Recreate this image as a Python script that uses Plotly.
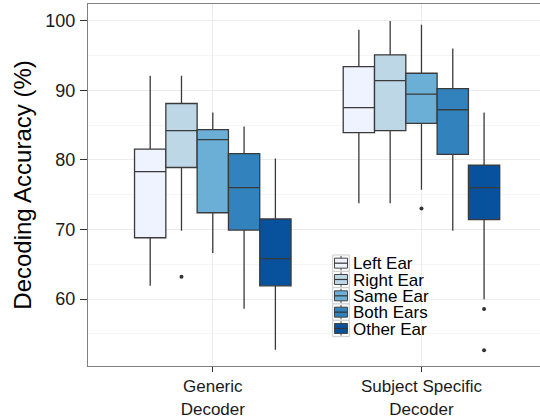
import plotly.graph_objects as go

# ---------------- data ----------------
categories = ["Generic<br>Decoder", "Subject Specific<br>Decoder"]
series = ["Left Ear", "Right Ear", "Same Ear", "Both Ears", "Other Ear"]
colors = ["#EFF3FF", "#BDD7E7", "#6BAED6", "#3182BD", "#08519C"]

# each list: [Generic Decoder, Subject Specific Decoder]
lower_whisker = {
    "Left Ear": [61.9, 73.75],
    "Right Ear": [69.8, 73.75],
    "Same Ear": [66.6, 75.7],
    "Both Ears": [58.6, 69.8],
    "Other Ear": [52.7, 59.95],
}
q1 = {
    "Left Ear": [68.8, 83.9],
    "Right Ear": [78.9, 84.2],
    "Same Ear": [72.4, 85.25],
    "Both Ears": [69.9, 80.8],
    "Other Ear": [61.9, 71.4],
}
median = {
    "Left Ear": [78.3, 87.5],
    "Right Ear": [84.2, 91.4],
    "Same Ear": [82.9, 89.45],
    "Both Ears": [76.0, 87.2],
    "Other Ear": [65.8, 76.0],
}
q3 = {
    "Left Ear": [81.55, 93.4],
    "Right Ear": [88.1, 95.1],
    "Same Ear": [84.35, 92.45],
    "Both Ears": [80.9, 90.25],
    "Other Ear": [71.5, 79.25],
}
upper_whisker = {
    "Left Ear": [92.1, 98.7],
    "Right Ear": [92.1, 99.95],
    "Same Ear": [86.8, 99.4],
    "Both Ears": [84.8, 96.0],
    "Other Ear": [80.2, 86.8],
}
outliers = {
    "Left Ear": [[], []],
    "Right Ear": [[63.2], []],
    "Same Ear": [[], [73.0]],
    "Both Ears": [[], []],
    "Other Ear": [[], [58.55, 52.65]],
}

y_ticks = [60, 70, 80, 90, 100]

# ---------------- figure ----------------
W, H = 540, 419
ML, MR, MT, MB = 88, 0, 4, 53
FONT = "Liberation Sans, Arial, sans-serif"
GROUP_W = 0.75                      # dodge width of a category group
BOX_W = GROUP_W / len(series)       # width of one box (boxes touch)

cat_pos = list(range(len(categories)))

fig = go.Figure()
for i, (name, col) in enumerate(zip(series, colors)):
    offset = (i - (len(series) - 1) / 2) * BOX_W
    xs = [p + offset for p in cat_pos]
    fig.add_trace(go.Box(
        name=name,
        x=xs,
        q1=q1[name], median=median[name], q3=q3[name],
        lowerfence=lower_whisker[name], upperfence=upper_whisker[name],
        width=BOX_W,
        fillcolor=col,
        line=dict(color="#3a3a3a", width=1.3),
        whiskerwidth=0,
        boxpoints=False,
        showlegend=False,
        hoverinfo="skip",
    ))
    ox, oy = [], []
    for p, pts in zip(cat_pos, outliers[name]):
        for v in pts:
            ox.append(p + offset)
            oy.append(v)
    if ox:
        fig.add_trace(go.Scatter(
            x=ox, y=oy, mode="markers",
            marker=dict(color="#333333", size=4),
            showlegend=False, hoverinfo="skip",
        ))

# ---- hand-drawn legend (ggplot style keys) ----
def px(xp):
    return (xp - ML) / (W - ML - MR)

def py(yp):
    return (H - MB - yp) / (H - MT - MB)

shapes = []
annotations = []
shapes.append(dict(type="rect", xref="paper", yref="paper", layer="between",
                   x0=px(330.5), x1=px(444), y0=py(340), y1=py(246.5),
                   fillcolor="white", line=dict(width=0)))
top, cell_h = 255.0, 16.33
kx0, kx1 = 332.7, 349.3
for i, (name, col) in enumerate(zip(series, colors)):
    c_top = top + i * cell_h
    cy = c_top + cell_h / 2
    shapes.append(dict(type="rect", xref="paper", yref="paper", layer="above",
                       x0=px(kx0), x1=px(kx1), y0=py(c_top + cell_h), y1=py(c_top),
                       fillcolor="white", line=dict(color="#cccccc", width=1)))
    cx = (kx0 + kx1) / 2
    shapes.append(dict(type="line", xref="paper", yref="paper", layer="above",
                       x0=px(cx), x1=px(cx), y0=py(c_top + cell_h - 1), y1=py(c_top + 1),
                       line=dict(color="#444444", width=1)))
    shapes.append(dict(type="rect", xref="paper", yref="paper", layer="above",
                       x0=px(kx0 + 1.8), x1=px(kx1 - 1.8), y0=py(cy + 5), y1=py(cy - 5),
                       fillcolor=col, line=dict(color="#444444", width=1)))
    shapes.append(dict(type="line", xref="paper", yref="paper", layer="above",
                       x0=px(kx0 + 1.8), x1=px(kx1 - 1.8), y0=py(cy), y1=py(cy),
                       line=dict(color="#333333", width=1.2)))
    annotations.append(dict(text=name, xref="paper", yref="paper",
                            x=px(351.0), y=py(cy + 0.6), xanchor="left", yanchor="middle",
                            showarrow=False, font=dict(family=FONT, size=17, color="#000000")))

fig.update_layout(
    width=W, height=H,
    margin=dict(l=ML, r=MR, t=MT, b=MB, pad=0, autoexpand=False),
    paper_bgcolor="white", plot_bgcolor="white",
    font=dict(family=FONT, color="#1a1a1a"),
    shapes=shapes, annotations=annotations,
    showlegend=False,
)
fig.update_xaxes(
    range=[-0.598, 1.568], tickvals=cat_pos, ticktext=categories,
    automargin=False,
    showline=True, linecolor="#7f7f7f", linewidth=1, mirror=True,
    ticks="outside", ticklen=5, tickcolor="#333333", tickwidth=1,
    tickfont=dict(family=FONT, size=17, color="#1a1a1a"),
    showgrid=True, gridcolor="#EBEBEB", gridwidth=1.2, zeroline=False,
)
fig.update_yaxes(
    range=[50.37, 102.4], tickvals=y_ticks,
    automargin=False,
    showline=True, linecolor="#7f7f7f", linewidth=1, mirror=False,
    ticks="outside", ticklen=7, tickcolor="#333333", tickwidth=1, ticklabelstandoff=1,
    tickfont=dict(family=FONT, size=18, color="#1a1a1a"),
    showgrid=True, gridcolor="#EBEBEB", gridwidth=1.2, zeroline=False,
    minor=dict(dtick=5, tick0=0, showgrid=True, gridcolor="#F5F5F5", gridwidth=0.7, ticks=""),
    title=dict(text="Decoding Accuracy (%)", font=dict(family=FONT, size=24, color="#000000"), standoff=6),
)

fig.write_html("out.html", config={"displayModeBar": False},
               post_script="document.body.style.margin='0';")
